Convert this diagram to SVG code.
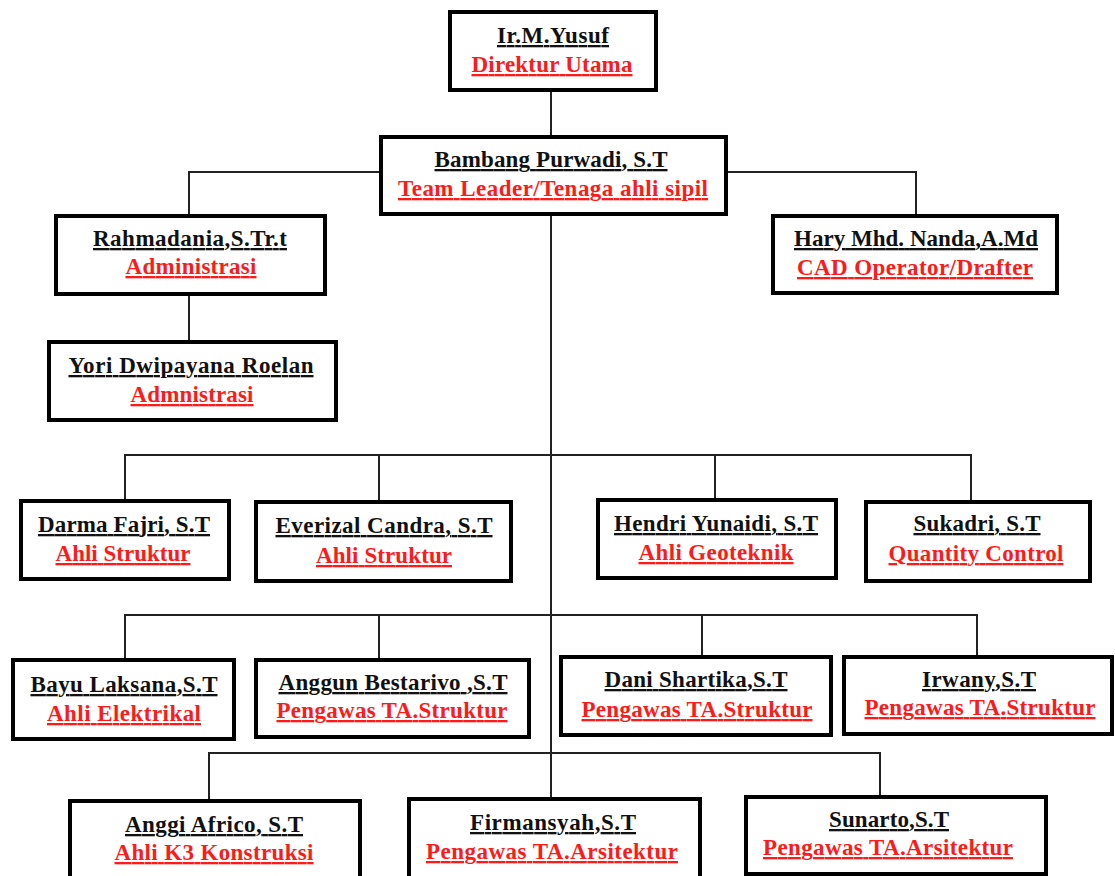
<svg xmlns="http://www.w3.org/2000/svg" width="1115" height="876" viewBox="0 0 1115 876">
<style>
.box{fill:#fff;stroke:#000;stroke-width:4}
.con{fill:none;stroke:#222;stroke-width:2}
text{font-family:"Liberation Serif","Times New Roman",serif;font-weight:bold;font-size:23px;text-anchor:middle;text-decoration:underline}
.nm{fill:#111}
.rl{fill:#ff1a1a}
</style>
<rect width="1115" height="876" fill="#fff"/>
<g id="connectors">
<path class="con" d="M551 92V135"/>
<path class="con" d="M551 216V797"/>
<path class="con" d="M379 172H189V214M728 172H916V214"/>
<path class="con" d="M189 296V340"/>
<path class="con" d="M125 499V455H971V500M379 455V500M715 455V498"/>
<path class="con" d="M125 658V615H977V655M379 615V658M702 615V655"/>
<path class="con" d="M209 799V753H880V795"/>
</g>
<g id="n-yusuf"><rect class="box" x="450" y="12" width="206" height="78"/>
<text class="nm" x="553" y="43" textLength="112" lengthAdjust="spacing">Ir.M.Yusuf</text>
<text class="rl" x="552" y="72" textLength="161" lengthAdjust="spacing">Direktur Utama</text></g>
<g id="n-bambang"><rect class="box" x="381" y="137" width="345" height="77"/>
<text class="nm" x="551" y="167" textLength="233" lengthAdjust="spacing">Bambang Purwadi, S.T</text>
<text class="rl" x="553" y="196" textLength="310" lengthAdjust="spacing">Team Leader/Tenaga ahli sipil</text></g>
<g id="n-rahmadania"><rect class="box" x="56" y="216" width="269" height="78"/>
<text class="nm" x="190" y="246" textLength="194" lengthAdjust="spacing">Rahmadania,S.Tr.t</text>
<text class="rl" x="191" y="274" textLength="131" lengthAdjust="spacing">Administrasi</text></g>
<g id="n-yori"><rect class="box" x="49" y="342" width="287" height="78"/>
<text class="nm" x="191" y="373" textLength="245" lengthAdjust="spacing">Yori Dwipayana Roelan</text>
<text class="rl" x="192" y="402" textLength="123" lengthAdjust="spacing">Admnistrasi</text></g>
<g id="n-hary"><rect class="box" x="773" y="216" width="284" height="77"/>
<text class="nm" x="916" y="246" textLength="244" lengthAdjust="spacing">Hary Mhd. Nanda,A.Md</text>
<text class="rl" x="915" y="275" textLength="236" lengthAdjust="spacing">CAD Operator/Drafter</text></g>
<g id="n-darma"><rect class="box" x="21" y="501" width="208" height="78"/>
<text class="nm" x="124" y="532" textLength="172" lengthAdjust="spacing">Darma Fajri, S.T</text>
<text class="rl" x="123" y="561" textLength="135" lengthAdjust="spacing">Ahli Struktur</text></g>
<g id="n-everizal"><rect class="box" x="256" y="502" width="255" height="79"/>
<text class="nm" x="384" y="533" textLength="217" lengthAdjust="spacing">Everizal Candra, S.T</text>
<text class="rl" x="384" y="563" textLength="136" lengthAdjust="spacing">Ahli Struktur</text></g>
<g id="n-hendri"><rect class="box" x="598" y="500" width="238" height="78"/>
<text class="nm" x="716" y="531" textLength="204" lengthAdjust="spacing">Hendri Yunaidi, S.T</text>
<text class="rl" x="716" y="560" textLength="155" lengthAdjust="spacing">Ahli Geoteknik</text></g>
<g id="n-sukadri"><rect class="box" x="866" y="502" width="224" height="79"/>
<text class="nm" x="977" y="531" textLength="127" lengthAdjust="spacing">Sukadri, S.T</text>
<text class="rl" x="976" y="561" textLength="175" lengthAdjust="spacing">Quantity Control</text></g>
<g id="n-bayu"><rect class="box" x="13" y="660" width="221" height="79"/>
<text class="nm" x="124" y="692" textLength="187" lengthAdjust="spacing">Bayu Laksana,S.T</text>
<text class="rl" x="124" y="721" textLength="154" lengthAdjust="spacing">Ahli Elektrikal</text></g>
<g id="n-anggun"><rect class="box" x="256" y="660" width="273" height="77"/>
<text class="nm" x="393" y="690" textLength="229" lengthAdjust="spacing">Anggun Bestarivo ,S.T</text>
<text class="rl" x="392" y="718" textLength="231" lengthAdjust="spacing">Pengawas TA.Struktur</text></g>
<g id="n-dani"><rect class="box" x="561" y="657" width="270" height="78"/>
<text class="nm" x="696" y="687" textLength="183" lengthAdjust="spacing">Dani Shartika,S.T</text>
<text class="rl" x="697" y="717" textLength="231" lengthAdjust="spacing">Pengawas TA.Struktur</text></g>
<g id="n-irwany"><rect class="box" x="844" y="657" width="268" height="77"/>
<text class="nm" x="979" y="687" textLength="114" lengthAdjust="spacing">Irwany,S.T</text>
<text class="rl" x="980" y="715" textLength="231" lengthAdjust="spacing">Pengawas TA.Struktur</text></g>
<g id="n-anggi"><rect class="box" x="70" y="801" width="290" height="90"/>
<text class="nm" x="214" y="832" textLength="178" lengthAdjust="spacing">Anggi Africo, S.T</text>
<text class="rl" x="214" y="860" textLength="199" lengthAdjust="spacing">Ahli K3 Konstruksi</text></g>
<g id="n-firmansyah"><rect class="box" x="409" y="799" width="291" height="90"/>
<text class="nm" x="553" y="830" textLength="166" lengthAdjust="spacing">Firmansyah,S.T</text>
<text class="rl" x="552" y="859" textLength="252" lengthAdjust="spacing">Pengawas TA.Arsitektur</text></g>
<g id="n-sunarto"><rect class="box" x="746" y="797" width="300" height="77"/>
<text class="nm" x="889" y="827" textLength="120" lengthAdjust="spacing">Sunarto,S.T</text>
<text class="rl" x="888" y="855" textLength="250" lengthAdjust="spacing">Pengawas TA.Arsitektur</text></g>
</svg>
